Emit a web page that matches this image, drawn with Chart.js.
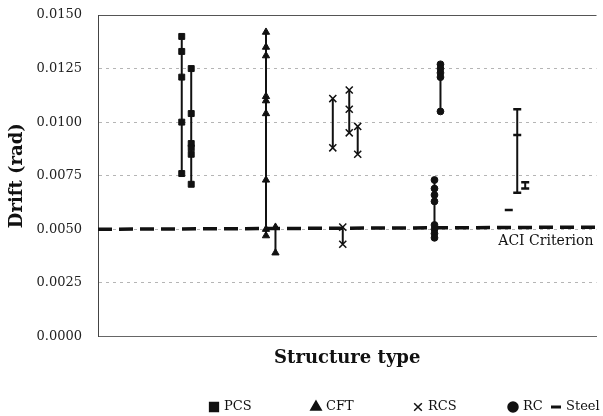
<!DOCTYPE html>
<html>
<head>
<meta charset="utf-8">
<script src="https://cdn.jsdelivr.net/npm/chart.js@4.4.1/dist/chart.umd.min.js"></script>
<style>
  html, body { margin: 0; padding: 0; background: #fff; }
  #wrap { width: 603px; height: 416px; }
</style>
</head>
<body>
<div id="wrap"><canvas id="driftChart" width="603" height="416"></canvas></div>
<script>
/* ==========================
   DATA
========================== */
const pcsDrift = [
  [0.0140, 0.0133, 0.0121, 0.0100, 0.0076],
  [0.0125, 0.0104, 0.0090, 0.0088, 0.0085, 0.0071]
];
const cftDrift = [
  [0.0142, 0.0135, 0.0131, 0.0112, 0.0110, 0.0104, 0.0073, 0.0050, 0.0047],
  [0.0051, 0.0039]
];
const rcsDrift = [
  [0.0111, 0.0088],
  [0.0051, 0.0043],
  [0.0115, 0.0106, 0.0095],
  [0.0098, 0.0085]
];
const rcDrift = [
  [0.0073, 0.0069, 0.0066, 0.0063, 0.0052, 0.0050, 0.0048, 0.0046],
  [0.0127, 0.0125, 0.0123, 0.0121, 0.0105]
];
const steelDrift = [
  [0.0059],
  [0.0106, 0.0094, 0.0067],
  [0.0072, 0.0069]
];

// where each range sits along the unlabelled structure-type axis (0-100)
const pcsSlot = [16.8, 18.7];
const cftSlot = [33.7, 35.6];
const rcsSlot = [47.1, 49.1, 50.4, 52.1];
const rcSlot = [67.5, 68.7];
const steelSlot = [82.4, 84.1, 85.7];

// ACI criterion, read at the left and right ends of the plot
const aciLimit = [0.0050, 0.0051];

/* ==========================
   DATASETS
========================== */
const INK = "#111111";

function buildSeries(label, drift, slot, style) {
  return drift.map((values, i) => ({
    label,
    data: values.map(v => ({ x: slot[i], y: v })),
    showLine: true,
    borderColor: INK,
    backgroundColor: INK,
    borderWidth: 2,
    pointStyle: style.pointStyle,
    pointRadius: style.radius,
    pointHoverRadius: style.radius,
    pointBorderWidth: style.pointBorderWidth || 1
  }));
}

const keyItems = [
  { text: "PCS", pointStyle: "rect", radius: 6.2, x: 214 },
  { text: "CFT", pointStyle: "triangle", radius: 6, x: 316 },
  { text: "RCS", pointStyle: "crossRot", radius: 5.4, x: 418 },
  { text: "RC", pointStyle: "circle", radius: 5, x: 513 },
  { text: "Steel", pointStyle: "line", radius: 5, x: 556 }
];

const datasets = [
  ...buildSeries("PCS", pcsDrift, pcsSlot, { pointStyle: "rect", radius: 4.2 }),
  ...buildSeries("CFT", cftDrift, cftSlot, { pointStyle: "triangle", radius: 4.2 }),
  ...buildSeries("RCS", rcsDrift, rcsSlot, { pointStyle: "crossRot", radius: 5, pointBorderWidth: 1.5 }),
  ...buildSeries("RC", rcDrift, rcSlot, { pointStyle: "circle", radius: 3.4 }),
  ...buildSeries("Steel", steelDrift, steelSlot, { pointStyle: "line", radius: 4, pointBorderWidth: 2.5 }),
  {
    label: "ACI Criterion",
    data: [{ x: 0, y: aciLimit[0] }, { x: 100, y: aciLimit[1] }],
    showLine: true,
    borderColor: INK,
    borderWidth: 3.5,
    borderDash: [14, 7],
    pointRadius: 0,
    pointHoverRadius: 0
  }
];

/* ==========================
   PLUGINS
========================== */
// "ACI Criterion" tag under the dashed line + the key row at the bottom
const chartNotes = {
  id: "chartNotes",
  afterDraw(chart) {
    const { ctx, chartArea, scales } = chart;
    ctx.save();
    ctx.fillStyle = INK;
    ctx.strokeStyle = INK;
    ctx.textBaseline = "middle";

    ctx.font = "14px 'DejaVu Serif', serif";
    ctx.textAlign = "right";
    ctx.fillText("ACI Criterion", chartArea.right - 3, scales.y.getPixelForValue(aciLimit[1]) + 14);

    ctx.font = "13px 'DejaVu Serif', serif";
    ctx.textAlign = "left";
    const keyY = chart.height - 9;
    keyItems.forEach(item => {
      ctx.lineWidth = item.pointStyle === "line" ? 3 : 1.5;
      Chart.helpers.drawPoint(ctx, {
        pointStyle: item.pointStyle,
        radius: item.radius,
        rotation: 0,
        borderWidth: ctx.lineWidth
      }, item.x, keyY);
      ctx.fillText(item.text, item.x + 10, keyY);
    });
    ctx.restore();
  }
};

/* ==========================
   CHART
========================== */
Chart.defaults.font.family = "'DejaVu Serif', serif";
Chart.defaults.color = INK;

const isTop = v => Math.abs(v - 0.015) < 1e-9;

new Chart(document.getElementById("driftChart"), {
  type: "scatter",
  data: { datasets },
  options: {
    responsive: false,
    animation: false,
    events: [],
    layout: {
      padding: { top: 15, right: 0, bottom: 47, left: 0 }
    },
    plugins: {
      legend: { display: false },
      tooltip: { enabled: false }
    },
    scales: {
      x: {
        type: "linear",
        min: 0,
        max: 100,
        ticks: { display: false },
        grid: { display: false, drawTicks: false },
        border: { display: true, color: "#666666", width: 1 },
        title: {
          display: true,
          text: "Structure type",
          color: INK,
          font: { size: 18, weight: "bold" },
          padding: { top: 11, bottom: 0 }
        }
      },
      y: {
        min: 0,
        max: 0.015,
        afterFit: scale => {
          // fixed gutter; the big label padding should not push the plot down
          scale.width = 98;
          scale.paddingTop = 0;
          scale.paddingBottom = 0;
        },
        ticks: {
          stepSize: 0.0025,
          padding: 16,
          color: "#222222",
          font: { size: 13 },
          callback: value => Number(value).toFixed(4)
        },
        grid: {
          drawTicks: false,
          color: ctx => (ctx.tick && isTop(ctx.tick.value) ? "#555555" : "#b5b5b5"),
          lineWidth: 1
        },
        border: {
          display: true,
          color: "#444444",
          width: 1,
          dash: ctx => (ctx.tick && isTop(ctx.tick.value) ? [] : [3, 4])
        },
        title: {
          display: true,
          text: "Drift (rad)",
          color: INK,
          font: { size: 18, weight: "bold" },
          padding: { top: 7, bottom: 0 }
        }
      }
    }
  },
  plugins: [chartNotes]
});
</script>
</body>
</html>
